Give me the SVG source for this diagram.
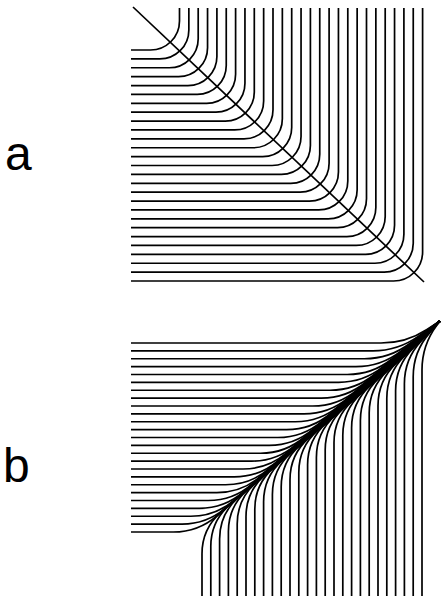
<svg xmlns="http://www.w3.org/2000/svg" width="441" height="602" viewBox="0 0 441 602">
<style>
.ln{fill:none;stroke:#000;stroke-width:1.7;stroke-linejoin:round}
.lbl{font-family:"Liberation Sans",Arial,sans-serif;font-size:48px;fill:#000}
</style>
<rect width="441" height="602" fill="#fff"/>
<g id="label-a"><text class="lbl" x="5" y="170">a</text></g>
<g id="label-b"><text class="lbl" x="3" y="482">b</text></g>
<g id="panel-a" class="ln">
<path d="M179.5 8V21a29 29 0 0 1-29 29H131"/>
<path d="M188.85 8V29.89a29 29 0 0 1-29 29H131"/>
<path d="M198.2 8V38.77a29 29 0 0 1-29 29H131"/>
<path d="M207.55 8V47.66a29 29 0 0 1-29 29H131"/>
<path d="M216.9 8V56.54a29 29 0 0 1-29 29H131"/>
<path d="M226.25 8V65.43a29 29 0 0 1-29 29H131"/>
<path d="M235.6 8V74.31a29 29 0 0 1-29 29H131"/>
<path d="M244.95 8V83.2a29 29 0 0 1-29 29H131"/>
<path d="M254.3 8V92.08a29 29 0 0 1-29 29H131"/>
<path d="M263.65 8V100.97a29 29 0 0 1-29 29H131"/>
<path d="M273 8V109.85a29 29 0 0 1-29 29H131"/>
<path d="M282.35 8V118.74a29 29 0 0 1-29 29H131"/>
<path d="M291.7 8V127.62a29 29 0 0 1-29 29H131"/>
<path d="M301.05 8V136.51a29 29 0 0 1-29 29H131"/>
<path d="M310.4 8V145.39a29 29 0 0 1-29 29H131"/>
<path d="M319.75 8V154.28a29 29 0 0 1-29 29H131"/>
<path d="M329.1 8V163.16a29 29 0 0 1-29 29H131"/>
<path d="M338.45 8V172.05a29 29 0 0 1-29 29H131"/>
<path d="M347.8 8V180.93a29 29 0 0 1-29 29H131"/>
<path d="M357.15 8V189.82a29 29 0 0 1-29 29H131"/>
<path d="M366.5 8V198.7a29 29 0 0 1-29 29H131"/>
<path d="M375.85 8V207.59a29 29 0 0 1-29 29H131"/>
<path d="M385.2 8V216.47a29 29 0 0 1-29 29H131"/>
<path d="M394.55 8V225.36a29 29 0 0 1-29 29H131"/>
<path d="M403.9 8V234.24a29 29 0 0 1-29 29H131"/>
<path d="M413.25 8V243.13a29 29 0 0 1-29 29H131"/>
<path d="M422.6 8V252.01a29 29 0 0 1-29 29H131"/>
<path d="M133 7L424 282"/>
</g>
<g id="panel-b" class="ln">
<path d="M131 532H173.3Q198.3 532 217.14 515.56L440 321"/>
<path d="M131 524.13H182.02Q207.02 524.13 225.87 507.7L440 321"/>
<path d="M131 516.25H190.74Q215.74 516.25 234.6 499.84L440 321"/>
<path d="M131 508.38H199.45Q224.45 508.38 243.32 491.98L440 321"/>
<path d="M131 500.5H208.17Q233.17 500.5 252.05 484.12L440 321"/>
<path d="M131 492.63H216.88Q241.88 492.63 260.78 476.26L440 321"/>
<path d="M131 484.75H225.59Q250.59 484.75 269.5 468.4L440 321"/>
<path d="M131 476.88H234.31Q259.31 476.88 278.24 460.55L440 321"/>
<path d="M131 469H243.02Q268.02 469 286.97 452.7L440 321"/>
<path d="M131 461.13H251.73Q276.73 461.13 295.7 444.85L440 321"/>
<path d="M131 453.25H260.44Q285.44 453.25 304.44 437L440 321"/>
<path d="M131 445.38H269.14Q294.14 445.38 313.17 429.16L440 321"/>
<path d="M131 437.5H277.85Q302.85 437.5 321.91 421.32L440 321"/>
<path d="M131 429.63H286.55Q311.55 429.63 330.64 413.48L440 321"/>
<path d="M131 421.75H295.25Q320.25 421.75 339.39 405.66L440 321"/>
<path d="M131 413.88H303.94Q328.94 413.88 348.12 397.84L440 321"/>
<path d="M131 406H312.63Q337.63 406 356.87 390.03L440 321"/>
<path d="M131 398.13H321.31Q346.31 398.13 365.62 382.23L440 321"/>
<path d="M131 390.25H329.99Q354.99 390.25 374.38 374.47L440 321"/>
<path d="M131 382.38H338.63Q363.63 382.38 383.12 366.71L440 321"/>
<path d="M131 374.5H347.27Q372.27 374.5 391.89 359L440 321"/>
<path d="M131 366.63H355.87Q380.87 366.63 400.66 351.35L440 321"/>
<path d="M131 358.75H364.41Q389.41 358.75 409.45 343.8L440 321"/>
<path d="M131 350.88H372.84Q397.84 350.88 418.24 336.42L440 321"/>
<path d="M131 343H381Q406 343 426.99 329.42L440 321"/>
<path d="M202 596V553.77Q202 528.77 220.84 512.33L440 321"/>
<path d="M210.8 596V546.36Q210.8 521.36 229.62 504.91L440 321"/>
<path d="M219.6 596V538.94Q219.6 513.94 238.41 497.48L440 321"/>
<path d="M228.4 596V531.52Q228.4 506.52 247.2 490.04L440 321"/>
<path d="M237.2 596V524.11Q237.2 499.11 255.99 482.62L440 321"/>
<path d="M246 596V516.7Q246 491.7 264.77 475.19L440 321"/>
<path d="M254.8 596V509.28Q254.8 484.28 273.56 467.75L440 321"/>
<path d="M263.6 596V501.87Q263.6 476.87 282.34 460.32L440 321"/>
<path d="M272.4 596V494.45Q272.4 469.45 291.12 452.88L440 321"/>
<path d="M281.2 596V487.04Q281.2 462.04 299.9 445.44L440 321"/>
<path d="M290 596V479.63Q290 454.63 308.67 438L440 321"/>
<path d="M298.8 596V472.22Q298.8 447.22 317.44 430.56L440 321"/>
<path d="M307.6 596V464.81Q307.6 439.81 326.21 423.12L440 321"/>
<path d="M316.4 596V457.4Q316.4 432.4 334.97 415.67L440 321"/>
<path d="M325.2 596V450Q325.2 425 343.73 408.22L440 321"/>
<path d="M334 596V442.59Q334 417.59 352.48 400.76L440 321"/>
<path d="M342.8 596V435.2Q342.8 410.2 361.22 393.3L440 321"/>
<path d="M351.6 596V427.8Q351.6 402.8 369.95 385.82L440 321"/>
<path d="M360.4 596V420.42Q360.4 395.42 378.66 378.35L440 321"/>
<path d="M369.2 596V413.04Q369.2 388.04 387.35 370.85L440 321"/>
<path d="M378 596V405.68Q378 380.68 396.01 363.34L440 321"/>
<path d="M386.8 596V398.33Q386.8 373.33 404.62 355.8L440 321"/>
<path d="M395.6 596V391.02Q395.6 366.02 413.15 348.22L440 321"/>
<path d="M404.4 596V383.78Q404.4 358.78 421.55 340.59L440 321"/>
<path d="M413.2 596V376.67Q413.2 351.67 429.65 332.85L440 321"/>
<path d="M422 596V369.98Q422 344.98 437.01 324.99L440 321"/>
</g>
</svg>
